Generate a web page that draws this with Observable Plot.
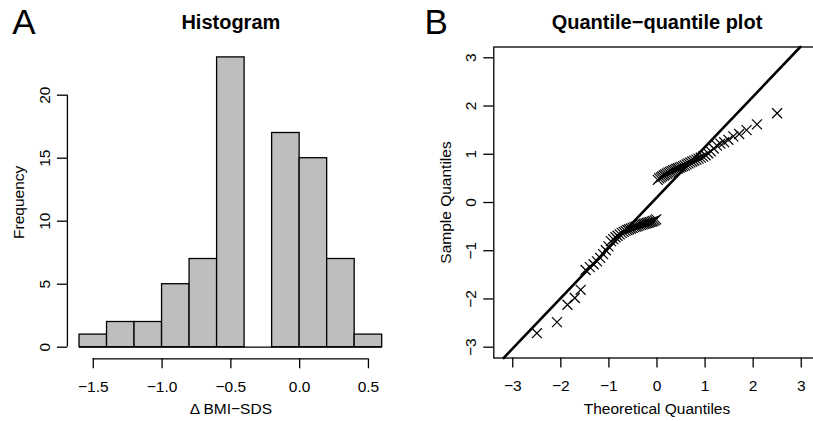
<!DOCTYPE html>
<html><head><meta charset="utf-8">
<script src="https://cdn.jsdelivr.net/npm/d3@7"></script>
<script src="https://cdn.jsdelivr.net/npm/@observablehq/plot@0.6"></script>
<style>
html,body{margin:0;padding:0;background:#fff;overflow:hidden;}
#wrap{position:relative;width:813px;height:421px;overflow:hidden;background:#fff;}
#wrap > svg{position:absolute;top:0;}
</style></head><body><div id="wrap"></div>
<script>
// ---- Histogram data ----
const breaks = [-1.6, -1.4, -1.2, -1.0, -0.8, -0.6, -0.4, -0.2, 0.0, 0.2, 0.4, 0.6];
const counts = [1, 2, 2, 5, 7, 23, 0, 17, 15, 7, 1];
const histXTicks = [-1.5, -1.0, -0.5, 0.0, 0.5];
const histYTicks = [0, 5, 10, 15, 20];

// ---- Q-Q data ----
const theoretical = [
  -2.498,-2.080,-1.863,-1.709,-1.587,-1.485,-1.397,-1.318,-1.247,-1.181,
  -1.120,-1.064,-1.010,-0.959,-0.911,-0.864,-0.820,-0.776,-0.735,-0.694,
  -0.655,-0.616,-0.579,-0.542,-0.506,-0.471,-0.436,-0.402,-0.368,-0.335,
  -0.302,-0.270,-0.237,-0.205,-0.173,-0.141,-0.110,-0.078,-0.047,-0.016,
   0.016, 0.047, 0.078, 0.110, 0.141, 0.173, 0.205, 0.237, 0.270, 0.302,
   0.335, 0.368, 0.402, 0.436, 0.471, 0.506, 0.542, 0.579, 0.616, 0.655,
   0.694, 0.735, 0.776, 0.820, 0.864, 0.911, 0.959, 1.010, 1.064, 1.120,
   1.181, 1.247, 1.318, 1.397, 1.485, 1.587, 1.709, 1.863, 2.080, 2.498
];
const sample = [
  -2.71,-2.48,-2.12,-1.98,-1.81,-1.40,-1.34,-1.28,-1.22,-1.15,
  -1.07,-0.99,-0.91,-0.80,-0.76,-0.72,-0.69,-0.66,-0.63,-0.61,
  -0.59,-0.57,-0.555,-0.54,-0.525,-0.51,-0.50,-0.49,-0.475,-0.465,
  -0.455,-0.445,-0.435,-0.425,-0.415,-0.405,-0.395,-0.385,-0.37,-0.35,
   0.47, 0.50, 0.52, 0.54, 0.56, 0.58, 0.60, 0.62, 0.635, 0.65,
   0.665, 0.68, 0.695, 0.71, 0.725, 0.74, 0.755, 0.77, 0.79, 0.81,
   0.83, 0.85, 0.87, 0.89, 0.91, 0.93, 0.95, 0.98, 1.02, 1.06,
   1.12, 1.18, 1.22, 1.25, 1.30, 1.37, 1.42, 1.50, 1.62, 1.85
];
const qqTicks = [-3, -2, -1, 0, 1, 2, 3];
const normalQuartiles = [-0.6745, 0.6745];

const font = '"Liberation Sans", Arial, Helvetica, sans-serif';
const wrap = document.getElementById("wrap");
const fmtInt = d3.format("d");
const fmt1 = d3.format(".1f");
const blank = () => "";

// ---------- Panel A ----------
const bins = counts.map((c, i) => ({x1: breaks[i], x2: breaks[i + 1], count: c}));
const ax = [-1.688, 0.688], ay = [-0.92, 23.92];
const plotA = Plot.plot({
  width: 410, height: 421,
  marginLeft: 66.9, marginRight: 16.2, marginTop: 45.3, marginBottom: 62.7,
  style: {fontFamily: font, fontSize: "15.5px", color: "black", background: "transparent", overflow: "visible"},
  x: {domain: ax}, y: {domain: ay},
  marks: [
    Plot.rect(bins, {x1: "x1", x2: "x2", y1: 0, y2: "count", fill: "#bebebe", stroke: "black", strokeWidth: 1.3}),
    Plot.ruleY([0], {x1: breaks[0], x2: breaks[breaks.length - 1], stroke: "black", strokeWidth: 1.3}),
    Plot.axisX({ticks: histXTicks, tickFormat: fmt1, tickSize: 10, tickPadding: 12, label: null, strokeWidth: 1.3}),
    Plot.ruleY([ay[0]], {x1: histXTicks[0], x2: histXTicks[histXTicks.length - 1], stroke: "black", strokeWidth: 1.3}),
    Plot.axisY({ticks: histYTicks, tickFormat: blank, tickSize: 10, label: null, strokeWidth: 1.3}),
    Plot.text(histYTicks, {y: d => d, text: d => fmtInt(d), frameAnchor: "left", rotate: -90, textAnchor: "middle", lineAnchor: "bottom", dx: -17, fontSize: 15.5}),
    Plot.ruleX([ax[0]], {y1: histYTicks[0], y2: histYTicks[histYTicks.length - 1], stroke: "black", strokeWidth: 1.3}),
    Plot.text(["Histogram"], {text: d => d, frameAnchor: "top", dy: -17, lineAnchor: "bottom", fontSize: 20, fontWeight: "bold"}),
    Plot.text(["A"], {text: d => d, frameAnchor: "top-left", textAnchor: "start", dx: -55.2, dy: -12, lineAnchor: "bottom", fontSize: 35}),
    Plot.text(["\u0394 BMI\u2212SDS"], {text: d => d, frameAnchor: "bottom", dy: 54.7, lineAnchor: "bottom", fontSize: 15.5}),
    Plot.text(["Frequency"], {text: d => d, frameAnchor: "left", rotate: -90, textAnchor: "middle", lineAnchor: "bottom", dx: -43.4, fontSize: 15.5})
  ]
});
plotA.style.left = "0px";
wrap.appendChild(plotA);

// ---------- Panel B ----------
const qq = theoretical.map((t, i) => ({t, s: sample[i]}));
const bx = [-3.394, 3.394], by = [-3.224, 3.224];
const q1 = d3.quantile(sample, 0.25), q3 = d3.quantile(sample, 0.75);
const slope = (q3 - q1) / (normalQuartiles[1] - normalQuartiles[0]);
const intercept = q1 - slope * normalQuartiles[0];
const xa = Math.max(bx[0], (by[0] - intercept) / slope);
const xb = Math.min(bx[1], (by[1] - intercept) / slope);
const qqLine = [xa, xb].map(x => ({x, y: intercept + slope * x}));

const plotB = Plot.plot({
  width: 410, height: 421,
  marginLeft: 83.3, marginRight: 0.3, marginTop: 46.5, marginBottom: 63.5,
  style: {fontFamily: font, fontSize: "15.5px", color: "black", background: "transparent", overflow: "visible"},
  x: {domain: bx}, y: {domain: by},
  marks: [
    Plot.frame({stroke: "black", strokeWidth: 1.3}),
    Plot.line(qqLine, {x: "x", y: "y", stroke: "black", strokeWidth: 2.6}),
    Plot.dot(qq, {x: "t", y: "s", symbol: "times", r: 4.6, stroke: "black", fill: "none", strokeWidth: 1.2}),
    Plot.axisX({ticks: qqTicks, tickFormat: fmtInt, tickSize: 10, tickPadding: 12, label: null, strokeWidth: 1.3}),
    Plot.axisY({ticks: qqTicks, tickFormat: blank, tickSize: 10, label: null, strokeWidth: 1.3}),
    Plot.text(qqTicks, {y: d => d, text: d => fmtInt(d), frameAnchor: "left", rotate: -90, textAnchor: "middle", lineAnchor: "bottom", dx: -18, fontSize: 15.5}),
    Plot.text(["Quantile\u2212quantile plot"], {text: d => d, frameAnchor: "top", dy: -18.2, lineAnchor: "bottom", fontSize: 20, fontWeight: "bold"}),
    Plot.text(["B"], {text: d => d, frameAnchor: "top-left", textAnchor: "start", dx: -69.3, dy: -13.2, lineAnchor: "bottom", fontSize: 35}),
    Plot.text(["Theoretical Quantiles"], {text: d => d, frameAnchor: "bottom", dy: 55.5, lineAnchor: "bottom", fontSize: 15.5}),
    Plot.text(["Sample Quantiles"], {text: d => d, frameAnchor: "left", rotate: -90, textAnchor: "middle", lineAnchor: "bottom", dx: -43.3, fontSize: 15.5})
  ]
});
plotB.style.left = "410px";
wrap.appendChild(plotB);
</script>
</body></html>
